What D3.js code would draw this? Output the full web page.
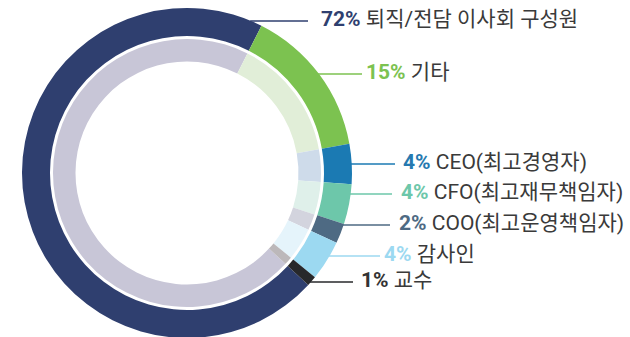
<!DOCTYPE html>
<html>
<head>
<meta charset="utf-8">
<script src="https://cdn.jsdelivr.net/npm/d3@7/dist/d3.min.js"></script>
<style>
  html, body { margin: 0; padding: 0; background: #ffffff; }
  svg { display: block; }
  .pct { font-family: Roboto, "Noto Sans CJK KR", sans-serif; font-weight: 700; font-size: 21px; }
  .name { font-family: Roboto, "Noto Sans CJK KR", sans-serif; font-weight: 400; font-size: 21px; fill: #3a3a3a; }
</style>
</head>
<body>
<div id="chart"></div>
<script>
// Board-member background shares (%)
const categories = ["퇴직/전담 이사회 구성원", "기타", "CEO(최고경영자)", "CFO(최고재무책임자)", "COO(최고운영책임자)", "감사인", "교수"];
const shares = [72, 15, 4, 4, 2, 4, 1];

// Ring colours: strong outer ring, pale inner ring, label percentage colour
const outerColors = ["#2f3f6f", "#7cc250", "#1b7ab3", "#6dc7aa", "#4e6a83", "#9cd9f1", "#27282b"];
const innerColors = ["#c8c6d7", "#e1eed8", "#cedbea", "#dff0ea", "#d3d4de", "#e5f4fb", "#bcb8ba"];
const pctColors   = ["#2f3f6f", "#7cc250", "#2679b0", "#6dc7aa", "#4e6a83", "#9cd9f1", "#333333"];

// Label placement (text centre y, leader end x, text start x)
const labelY    = [18, 71, 161, 191, 222, 253, 279];
const leaderEnd = [308, 362, 395, 392, 390, 380, 353];
const textX     = [321, 366, 403, 401, 399, 384, 361];

const W = 630, H = 337;
const cx = 187, cy = 173;
const R_OUT = 165, R_OUT_IN = 137;
const R_IN = 134, R_IN_IN = 111.5;

const svg = d3.select("#chart").append("svg")
  .attr("width", W).attr("height", H);

const start = 132.7 * Math.PI / 180;
const pie = d3.pie().sort(null).value(d => d)
  .startAngle(start).endAngle(start + 2 * Math.PI);
const arcs = pie(shares);

const g = svg.append("g").attr("transform", `translate(${cx},${cy})`);

const outerArc = d3.arc().innerRadius(R_OUT_IN).outerRadius(R_OUT);
const innerArc = d3.arc().innerRadius(R_IN_IN).outerRadius(R_IN);

g.selectAll("path.outer").data(arcs).join("path")
  .attr("class", "outer")
  .attr("d", outerArc)
  .attr("fill", (d, i) => outerColors[i]);

g.selectAll("path.inner").data(arcs).join("path")
  .attr("class", "inner")
  .attr("d", innerArc)
  .attr("fill", (d, i) => innerColors[i]);

// Leader lines run horizontally from the ring's outer edge to the label
const labels = svg.append("g");
shares.forEach((v, i) => {
  const ly = labelY[i] + 3;
  const dy = ly - cy;
  const x0 = cx + Math.sqrt(Math.max(0, R_OUT * R_OUT - dy * dy)) - 1;
  labels.append("line")
    .attr("x1", x0).attr("x2", leaderEnd[i])
    .attr("y1", ly).attr("y2", ly)
    .attr("stroke", outerColors[i])
    .attr("stroke-width", 1.5);

  const t = labels.append("text")
    .attr("x", textX[i])
    .attr("y", labelY[i] + 7.5);
  t.append("tspan").attr("class", "pct").attr("fill", pctColors[i]).text(v + "%");
  t.append("tspan").attr("class", "name").text(" " + categories[i]);
});
</script>
</body>
</html>
